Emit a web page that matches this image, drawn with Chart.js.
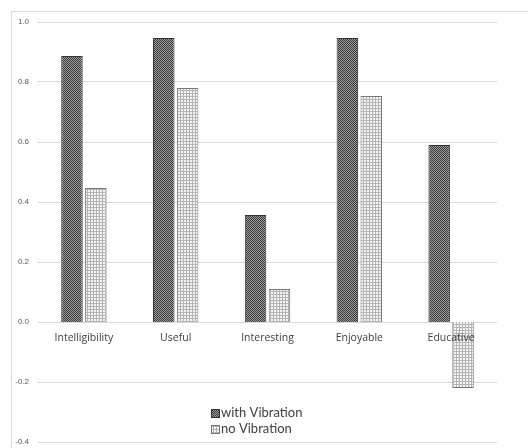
<!DOCTYPE html>
<html><head><meta charset="utf-8">
<script src="https://cdn.jsdelivr.net/npm/chart.js@4.4.1/dist/chart.umd.min.js"></script>
<style>
html,body{margin:0;padding:0;background:#fff;}
#wrap{position:relative;width:528px;height:448px;}
#frame{position:absolute;left:11px;top:11px;right:0;bottom:0;border-top:1px solid #d9d9d9;border-left:1px solid #d9d9d9;pointer-events:none;}
canvas{position:absolute;left:0;top:0;}
</style></head>
<body>
<div id="wrap"><canvas id="c" width="528" height="448"></canvas><div id="frame"></div></div>
<script>
const categories = ["Intelligibility", "Useful", "Interesting", "Enjoyable", "Educative"];
const withVibration = [0.887, 0.947, 0.357, 0.947, 0.59];
const noVibration = [0.447, 0.78, 0.11, 0.753, -0.22];
const seriesLabels = ["with Vibration", "no Vibration"];

function makePattern(kind){
  const t = document.createElement('canvas');
  const g = t.getContext('2d');
  if(kind === 'dark'){
    t.width = 2; t.height = 2;
    g.fillStyle = '#9a9a9a'; g.fillRect(0,0,2,2);
    g.fillStyle = '#3c3c3c'; g.fillRect(0,0,1,1); g.fillRect(1,1,1,1);
  } else {
    t.width = 3; t.height = 3;
    g.fillStyle = '#f4f4f4'; g.fillRect(0,0,3,3);
    g.fillStyle = '#b4b4b4'; g.fillRect(0,0,3,1); g.fillRect(0,0,1,3);
  }
  return g.createPattern(t, 'repeat');
}
const ctx = document.getElementById('c').getContext('2d');
const patDark = makePattern('dark');
const patLight = makePattern('light');

const overlayPlugin = {
  id: 'overlay',
  afterDatasetsDraw(chart){
    const c = chart.ctx;
    const xs = chart.scales.x, ys = chart.scales.y;
    c.save();
    c.font = '10.5px "Open Sans", "Liberation Sans", sans-serif';
    c.fillStyle = '#404040';
    c.textAlign = 'center';
    c.textBaseline = 'middle';
    const y0 = ys.getPixelForValue(0);
    categories.forEach((lab, i) => {
      c.fillText(lab, xs.getPixelForValue(i), y0 + 16);
    });
    c.restore();
  },
  afterDraw(chart){
    const c = chart.ctx;
    c.save();
    const items = [
      {label: seriesLabels[0], fill: patDark, stroke: '#333'},
      {label: seriesLabels[1], fill: patLight, stroke: '#777'}
    ];
    c.font = '13px Lato, "Open Sans", sans-serif';
    c.textBaseline = 'middle';
    items.forEach((it, i) => {
      const y = 413 + i * 16;
      c.fillStyle = it.fill;
      c.fillRect(211, y - 4, 9, 9);
      c.strokeStyle = it.stroke;
      c.lineWidth = 1;
      c.strokeRect(211.5, y - 3.5, 8, 8);
      c.fillStyle = '#404040';
      c.fillText(it.label, 221, y);
    });
    c.restore();
  }
};

new Chart(ctx, {
  type: 'bar',
  data: {
    labels: categories,
    datasets: [
      {label: seriesLabels[0], data: withVibration, backgroundColor: patDark, borderColor: '#333', borderWidth: 1, categoryPercentage: 0.52, barPercentage: 0.9},
      {label: seriesLabels[1], data: noVibration, backgroundColor: patLight, borderColor: '#777', borderWidth: 1, categoryPercentage: 0.52, barPercentage: 0.9}
    ]
  },
  options: {
    responsive: false,
    animation: false,
    devicePixelRatio: 1,
    layout: {padding: {left: 8, right: 31, top: 22, bottom: 6}},
    plugins: {legend: {display: false}, tooltip: {enabled: false}},
    scales: {
      x: {
        display: false
      },
      y: {
        min: -0.4, max: 1.0,
        afterFit: s => { s.width = 30; s.paddingTop = 0; s.paddingBottom = 0; },
        grid: {color: '#d9d9d9', drawTicks: false},
        border: {display: false},
        ticks: {stepSize: 0.2, color: '#595959', padding: 9,
          font: {size: 8, family: '"Liberation Sans", Arial, sans-serif'},
          callback: v => (Math.round(v * 10) / 10).toFixed(1)}
      }
    }
  },
  plugins: [overlayPlugin]
});
</script>
</body></html>
